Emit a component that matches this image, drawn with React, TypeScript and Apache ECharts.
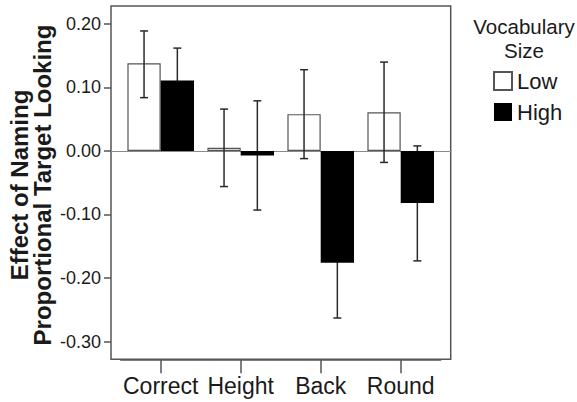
import React, { useEffect, useRef } from "react";
import * as echarts from "echarts";

const categories = ["Correct", "Height", "Back", "Round"];
const seriesNames = ["Low", "High"];
const lowMeans = [0.138, 0.005, 0.058, 0.061];
const highMeans = [0.111, -0.007, -0.176, -0.082];
const lowCILower = [0.084, -0.056, -0.012, -0.018];
const lowCIUpper = [0.189, 0.066, 0.128, 0.14];
const highCILower = [0.06, -0.093, -0.263, -0.173];
const highCIUpper = [0.162, 0.079, -0.089, 0.008];
const yTicks = [-0.3, -0.2, -0.1, 0, 0.1, 0.2];
const yMin = -0.328;
const yMax = 0.2283;

const FONT = "'Liberation Sans', Arial, Helvetica, sans-serif";
const BAR_W = 33.3;

export default function App() {
  const ref = useRef<HTMLDivElement>(null);
  useEffect(() => {
    if (!ref.current) return;
    const chart = echarts.init(ref.current, null, { renderer: "svg" });

    const errData: number[][] = [];
    categories.forEach((_, i) => {
      errData.push([i, lowCILower[i], lowCIUpper[i], 0]);
      errData.push([i, highCILower[i], highCIUpper[i], 1]);
    });

    const option: any = {
      animation: false,
      backgroundColor: "#fff",
      grid: [
        {
          left: 111,
          top: 6,
          right: 126.3,
          bottom: 42.7,
          show: true,
          borderColor: "#555",
          borderWidth: 1.5,
          backgroundColor: "transparent",
        },
        {
          left: 120.7,
          width: 320,
          top: 6,
          bottom: 42.7,
        },
      ],
      xAxis: [
        {
          type: "value",
          gridIndex: 0,
          min: 0,
          max: 1,
          axisLine: { show: true, onZero: true, lineStyle: { color: "#8a8a8a", width: 1 } },
          axisTick: { show: false },
          axisLabel: { show: false },
          splitLine: { show: false },
        },
        {
          type: "category",
          gridIndex: 1,
          data: categories,
          axisLine: { show: true, onZero: false, lineStyle: { color: "#555", width: 1.5 } },
          axisTick: {
            show: true,
            interval: 0,
            alignWithLabel: true,
            length: 14,
            lineStyle: { color: "#555", width: 1.5 },
          },
          axisLabel: {
            interval: 0,
            fontSize: 23,
            fontFamily: FONT,
            color: "#1a1a1a",
            margin: 15,
          },
          splitLine: { show: false },
        },
      ],
      yAxis: [
        {
          type: "value",
          gridIndex: 0,
          min: yMin,
          max: yMax,
          axisLine: { show: false },
          axisTick: {
            show: true,
            length: 7,
            customValues: yTicks,
            lineStyle: { color: "#555", width: 1.5 },
          },
          axisLabel: {
            customValues: yTicks,
            fontSize: 18,
            fontFamily: FONT,
            color: "#1a1a1a",
            margin: 10,
            formatter: (v: number) => v.toFixed(2),
          },
          splitLine: { show: false },
        },
        {
          type: "value",
          gridIndex: 1,
          min: yMin,
          max: yMax,
          show: false,
          splitLine: { show: false },
        },
      ],
      legend: {
        orient: "vertical",
        left: 493,
        top: 70,
        padding: 0,
        itemWidth: 18,
        itemHeight: 18,
        itemGap: 9,
        icon: "rect",
        data: seriesNames,
        textStyle: { fontSize: 22, fontFamily: FONT, color: "#1a1a1a" },
      },
      graphic: [
        {
          type: "text",
          x: 31,
          y: 185,
          rotation: Math.PI / 2,
          style: {
            text: "Effect of Naming\nProportional Target Looking",
            font: `bold 24px ${FONT}`,
            fill: "#1a1a1a",
            textAlign: "center",
            textVerticalAlign: "middle",
            lineHeight: 23,
          },
        },
        {
          type: "text",
          x: 524,
          y: 14,
          style: {
            text: "Vocabulary\nSize",
            font: `20.5px ${FONT}`,
            fill: "#1a1a1a",
            textAlign: "center",
            textVerticalAlign: "top",
            lineHeight: 24,
          },
        },
      ],
      series: [
        {
          name: "Low",
          type: "bar",
          xAxisIndex: 1,
          yAxisIndex: 1,
          z: 2,
          data: lowMeans,
          barWidth: BAR_W,
          barGap: "0%",
          itemStyle: { color: "#ffffff", borderColor: "#555", borderWidth: 1.2 },
        },
        {
          name: "High",
          type: "bar",
          xAxisIndex: 1,
          yAxisIndex: 1,
          z: 4,
          data: highMeans,
          barWidth: BAR_W,
          barGap: "0%",
          itemStyle: { color: "#000000", borderColor: "#000", borderWidth: 0 },
        },
        {
          type: "custom",
          xAxisIndex: 1,
          yAxisIndex: 1,
          z: 3,
          data: errData,
          renderItem: (params: any, api: any) => {
            const idx = api.value(0);
            const grp = api.value(3);
            const cx = api.coord([idx, 0])[0] + (grp === 0 ? -BAR_W / 2 : BAR_W / 2);
            const yLo = api.coord([idx, api.value(1)])[1];
            const yHi = api.coord([idx, api.value(2)])[1];
            const hw = 4;
            const style = { stroke: "#2a2a2a", lineWidth: 1.5 };
            return {
              type: "group",
              children: [
                { type: "line", shape: { x1: cx, y1: yLo, x2: cx, y2: yHi }, style },
                { type: "line", shape: { x1: cx - hw, y1: yHi, x2: cx + hw, y2: yHi }, style },
                { type: "line", shape: { x1: cx - hw, y1: yLo, x2: cx + hw, y2: yLo }, style },
              ],
            };
          },
        },
      ],
    };
    chart.setOption(option);
    return () => chart.dispose();
  }, []);

  return (
    <div
      ref={ref}
      style={{ position: "fixed", left: 0, top: 0, width: 577, height: 402, background: "#fff" }}
    />
  );
}
